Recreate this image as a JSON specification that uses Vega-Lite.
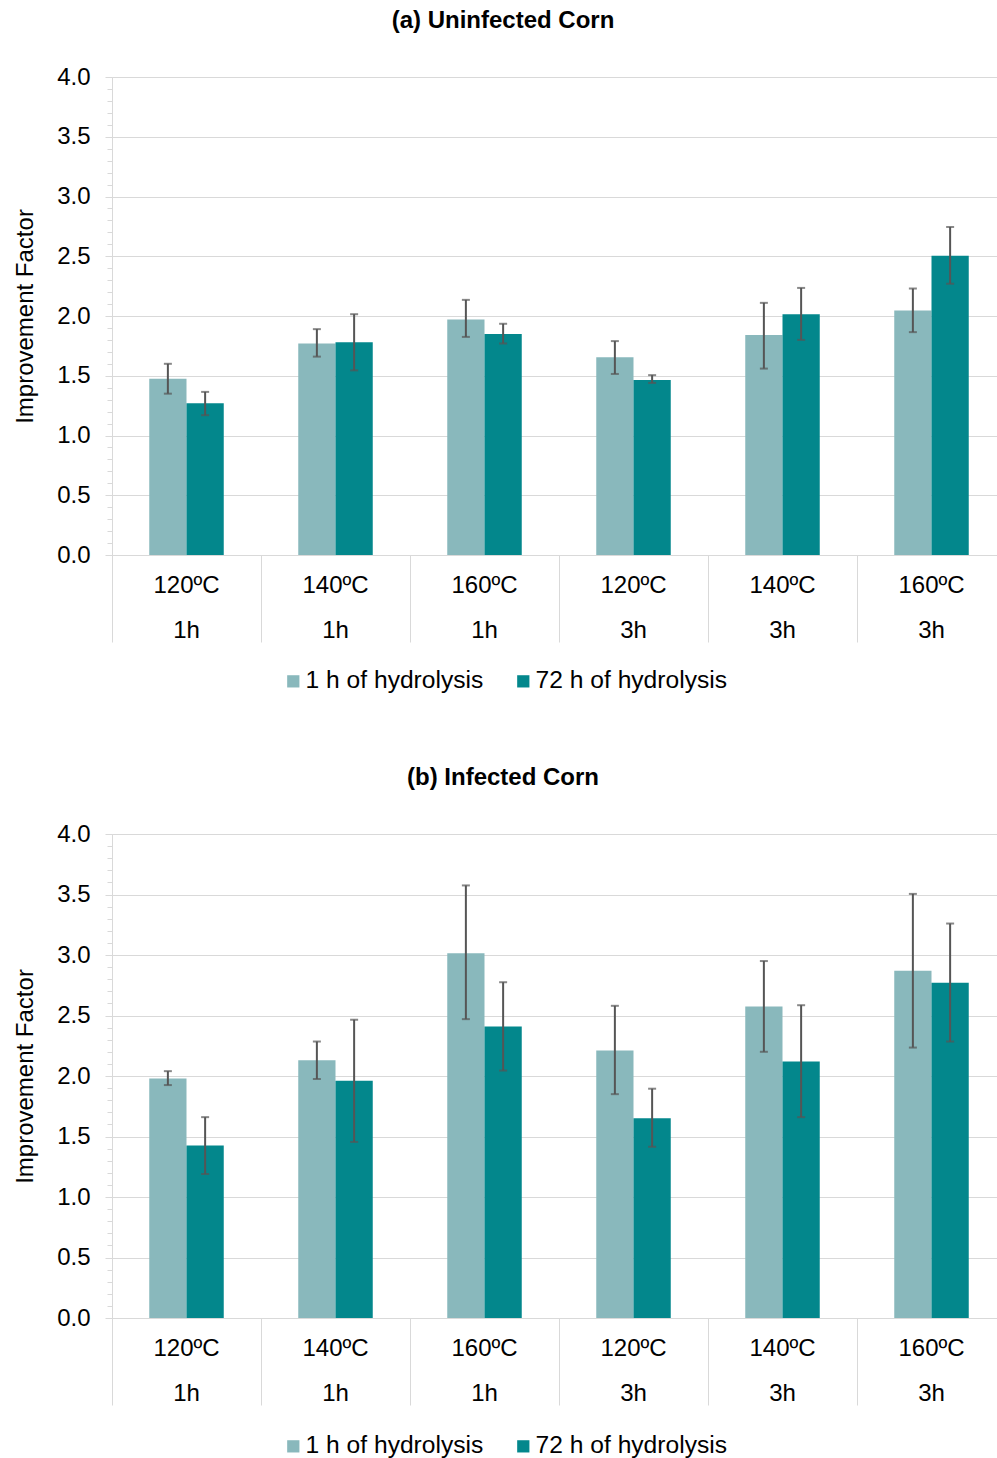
{
  "$schema": "https://vega.github.io/schema/vega-lite/v6.json",
  "padding": {"left": 13, "top": 9, "right": 5, "bottom": 0},
  "background": "white",
  "config": {
    "font": "Liberation Sans",
    "view": {"stroke": null},
    "axis": {"labelColor": "#000", "titleColor": "#000", "labelFont": "Liberation Sans", "titleFont": "Liberation Sans"}
  },
  "datasets": {
    "a": [
      {"cond": "120ºC|1h", "series": "1 h of hydrolysis", "value": 1.475, "lo": 1.35, "hi": 1.60},
      {"cond": "120ºC|1h", "series": "72 h of hydrolysis", "value": 1.27, "lo": 1.17, "hi": 1.365},
      {"cond": "140ºC|1h", "series": "1 h of hydrolysis", "value": 1.77, "lo": 1.66, "hi": 1.89},
      {"cond": "140ºC|1h", "series": "72 h of hydrolysis", "value": 1.78, "lo": 1.545, "hi": 2.015},
      {"cond": "160ºC|1h", "series": "1 h of hydrolysis", "value": 1.97, "lo": 1.825, "hi": 2.135},
      {"cond": "160ºC|1h", "series": "72 h of hydrolysis", "value": 1.85, "lo": 1.77, "hi": 1.935},
      {"cond": "120ºC|3h", "series": "1 h of hydrolysis", "value": 1.655, "lo": 1.515, "hi": 1.79},
      {"cond": "120ºC|3h", "series": "72 h of hydrolysis", "value": 1.465, "lo": 1.44, "hi": 1.505},
      {"cond": "140ºC|3h", "series": "1 h of hydrolysis", "value": 1.84, "lo": 1.56, "hi": 2.11},
      {"cond": "140ºC|3h", "series": "72 h of hydrolysis", "value": 2.015, "lo": 1.80, "hi": 2.235},
      {"cond": "160ºC|3h", "series": "1 h of hydrolysis", "value": 2.045, "lo": 1.865, "hi": 2.23},
      {"cond": "160ºC|3h", "series": "72 h of hydrolysis", "value": 2.505, "lo": 2.27, "hi": 2.745}
    ],
    "b": [
      {"cond": "120ºC|1h", "series": "1 h of hydrolysis", "value": 1.98, "lo": 1.925, "hi": 2.04},
      {"cond": "120ºC|1h", "series": "72 h of hydrolysis", "value": 1.425, "lo": 1.19, "hi": 1.66},
      {"cond": "140ºC|1h", "series": "1 h of hydrolysis", "value": 2.13, "lo": 1.975, "hi": 2.285},
      {"cond": "140ºC|1h", "series": "72 h of hydrolysis", "value": 1.96, "lo": 1.455, "hi": 2.465},
      {"cond": "160ºC|1h", "series": "1 h of hydrolysis", "value": 3.015, "lo": 2.47, "hi": 3.575},
      {"cond": "160ºC|1h", "series": "72 h of hydrolysis", "value": 2.41, "lo": 2.045, "hi": 2.775},
      {"cond": "120ºC|3h", "series": "1 h of hydrolysis", "value": 2.21, "lo": 1.85, "hi": 2.58},
      {"cond": "120ºC|3h", "series": "72 h of hydrolysis", "value": 1.65, "lo": 1.415, "hi": 1.895},
      {"cond": "140ºC|3h", "series": "1 h of hydrolysis", "value": 2.575, "lo": 2.2, "hi": 2.95},
      {"cond": "140ºC|3h", "series": "72 h of hydrolysis", "value": 2.12, "lo": 1.66, "hi": 2.585},
      {"cond": "160ºC|3h", "series": "1 h of hydrolysis", "value": 2.87, "lo": 2.235, "hi": 3.505},
      {"cond": "160ºC|3h", "series": "72 h of hydrolysis", "value": 2.77, "lo": 2.285, "hi": 3.26}
    ]
  },
  "resolve": {"scale": {"color": "independent"}},
  "spacing": 73,
  "vconcat": [
    {
      "data": {"name": "a"},
      "width": 894,
      "height": 478,
      "title": {"text": "(a) Uninfected Corn", "fontSize": 24, "fontWeight": "bold", "color": "#000", "anchor": "middle", "dx": -56, "offset": 32},
      "resolve": {"axis": {"x": "independent", "y": "independent"}},
      "layer": [
        {
          "mark": {"type": "bar"},
          "encoding": {
            "x": {"field": "cond", "type": "nominal", "scale": {"domain": ["120ºC|1h","140ºC|1h","160ºC|1h","120ºC|3h","140ºC|3h","160ºC|3h"], "paddingInner": 0, "paddingOuter": 0},
                  "axis": {"title": null, "labelExpr": "split(datum.label, '|')", "labelAngle": 0, "labelFontSize": 24, "labelLineHeight": 45, "labelPadding": 18, "ticks": false, "domainColor": "#d9d9d9", "grid": false}},
            "xOffset": {"field": "series", "type": "nominal", "scale": {"paddingInner": 0, "paddingOuter": 1.129}},
            "y": {"field": "value", "type": "quantitative", "scale": {"domain": [0, 4], "nice": false},
                  "axis": {"title": "Improvement Factor", "titleFontSize": 24, "titleFontWeight": "normal", "titlePadding": 19, "values": [0,0.5,1,1.5,2,2.5,3,3.5,4], "format": ".1f", "labelFontSize": 24, "labelPadding": 15, "tickSize": 7, "tickColor": "#d9d9d9", "domainColor": "#d9d9d9", "gridColor": "#d9d9d9", "grid": true}},
            "color": {"field": "series", "type": "nominal", "scale": {"domain": ["1 h of hydrolysis", "72 h of hydrolysis"], "range": ["#89B8BC", "#03878C"]},
                      "legend": {"title": null, "orient": "none", "legendX": 169, "legendY": 592, "direction": "horizontal", "symbolType": "square", "symbolSize": 150, "symbolStrokeWidth": 0, "labelFontSize": 24.6, "labelColor": "#000", "labelOffset": 0, "labelLimit": 400, "columnPadding": 27}}
          }
        },
        {
          "mark": {"type": "rule", "color": "#555555", "strokeWidth": 2},
          "encoding": {
            "x": {"field": "cond", "type": "nominal", "axis": {"title": null, "orient": "bottom", "labels": false, "domain": false, "grid": false, "tickBand": "extent", "tickSize": 87, "tickColor": "#d9d9d9"}},
            "xOffset": {"field": "series", "type": "nominal"},
            "y": {"field": "lo", "type": "quantitative", "axis": {"orient": "left", "title": null, "labels": false, "domain": false, "grid": false, "values": [0,0.1,0.2,0.3,0.4,0.5,0.6,0.7,0.8,0.9,1,1.1,1.2,1.3,1.4,1.5,1.6,1.7,1.8,1.9,2,2.1,2.2,2.3,2.4,2.5,2.6,2.7,2.8,2.9,3,3.1,3.2,3.3,3.4,3.5,3.6,3.7,3.8,3.9,4], "tickSize": 5, "tickColor": "#d9d9d9"}},
            "y2": {"field": "hi"}
          }
        },
        {
          "mark": {"type": "tick", "color": "#555555", "size": 8, "thickness": 2},
          "encoding": {
            "x": {"field": "cond", "type": "nominal", "axis": null},
            "xOffset": {"field": "series", "type": "nominal"},
            "y": {"field": "lo", "type": "quantitative", "axis": null}
          }
        },
        {
          "mark": {"type": "tick", "color": "#555555", "size": 8, "thickness": 2},
          "encoding": {
            "x": {"field": "cond", "type": "nominal", "axis": null},
            "xOffset": {"field": "series", "type": "nominal"},
            "y": {"field": "hi", "type": "quantitative", "axis": null}
          }
        }
      ]
    },
    {
      "data": {"name": "b"},
      "width": 894,
      "height": 484,
      "title": {"text": "(b) Infected Corn", "fontSize": 24, "fontWeight": "bold", "color": "#000", "anchor": "middle", "dx": -56, "offset": 32},
      "resolve": {"axis": {"x": "independent", "y": "independent"}},
      "layer": [
        {
          "mark": {"type": "bar"},
          "encoding": {
            "x": {"field": "cond", "type": "nominal", "scale": {"domain": ["120ºC|1h","140ºC|1h","160ºC|1h","120ºC|3h","140ºC|3h","160ºC|3h"], "paddingInner": 0, "paddingOuter": 0},
                  "axis": {"title": null, "labelExpr": "split(datum.label, '|')", "labelAngle": 0, "labelFontSize": 24, "labelLineHeight": 45, "labelPadding": 18, "ticks": false, "domainColor": "#d9d9d9", "grid": false}},
            "xOffset": {"field": "series", "type": "nominal", "scale": {"paddingInner": 0, "paddingOuter": 1.129}},
            "y": {"field": "value", "type": "quantitative", "scale": {"domain": [0, 4], "nice": false},
                  "axis": {"title": "Improvement Factor", "titleFontSize": 24, "titleFontWeight": "normal", "titlePadding": 19, "values": [0,0.5,1,1.5,2,2.5,3,3.5,4], "format": ".1f", "labelFontSize": 24, "labelPadding": 15, "tickSize": 7, "tickColor": "#d9d9d9", "domainColor": "#d9d9d9", "gridColor": "#d9d9d9", "grid": true}},
            "color": {"field": "series", "type": "nominal", "scale": {"domain": ["1 h of hydrolysis", "72 h of hydrolysis"], "range": ["#89B8BC", "#03878C"]},
                      "legend": {"title": null, "orient": "none", "legendX": 169, "legendY": 600, "direction": "horizontal", "symbolType": "square", "symbolSize": 150, "symbolStrokeWidth": 0, "labelFontSize": 24.6, "labelColor": "#000", "labelOffset": 0, "labelLimit": 400, "columnPadding": 27}}
          }
        },
        {
          "mark": {"type": "rule", "color": "#555555", "strokeWidth": 2},
          "encoding": {
            "x": {"field": "cond", "type": "nominal", "axis": {"title": null, "orient": "bottom", "labels": false, "domain": false, "grid": false, "tickBand": "extent", "tickSize": 87, "tickColor": "#d9d9d9"}},
            "xOffset": {"field": "series", "type": "nominal"},
            "y": {"field": "lo", "type": "quantitative", "axis": {"orient": "left", "title": null, "labels": false, "domain": false, "grid": false, "values": [0,0.1,0.2,0.3,0.4,0.5,0.6,0.7,0.8,0.9,1,1.1,1.2,1.3,1.4,1.5,1.6,1.7,1.8,1.9,2,2.1,2.2,2.3,2.4,2.5,2.6,2.7,2.8,2.9,3,3.1,3.2,3.3,3.4,3.5,3.6,3.7,3.8,3.9,4], "tickSize": 5, "tickColor": "#d9d9d9"}},
            "y2": {"field": "hi"}
          }
        },
        {
          "mark": {"type": "tick", "color": "#555555", "size": 8, "thickness": 2},
          "encoding": {
            "x": {"field": "cond", "type": "nominal", "axis": null},
            "xOffset": {"field": "series", "type": "nominal"},
            "y": {"field": "lo", "type": "quantitative", "axis": null}
          }
        },
        {
          "mark": {"type": "tick", "color": "#555555", "size": 8, "thickness": 2},
          "encoding": {
            "x": {"field": "cond", "type": "nominal", "axis": null},
            "xOffset": {"field": "series", "type": "nominal"},
            "y": {"field": "hi", "type": "quantitative", "axis": null}
          }
        }
      ]
    }
  ]
}
